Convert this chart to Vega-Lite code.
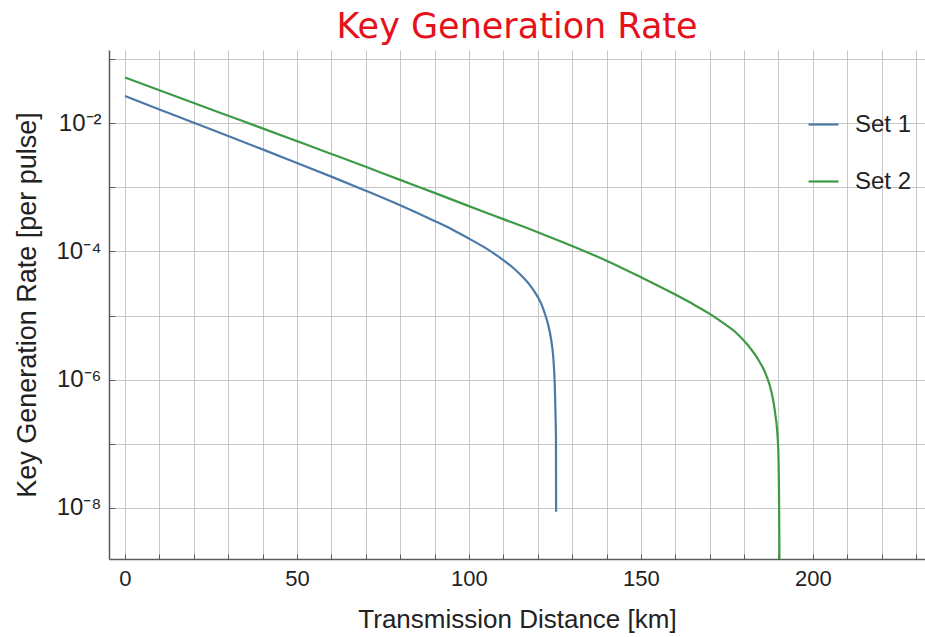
{
  "$schema": "https://vega.github.io/schema/vega-lite/v6.json",
  "width": 816,
  "height": 509,
  "autosize": {"type": "none"},
  "padding": {"left": 109, "top": 50, "right": 0, "bottom": 78},
  "background": "white",
  "title": {
    "text": "Key Generation Rate",
    "color": "#e5121b",
    "font": "DejaVu Sans",
    "fontSize": 35,
    "fontWeight": "normal",
    "anchor": "middle",
    "offset": 2
  },
  "data": {
    "values": [
      {"series": "Set 1", "distance": 0, "rate": 0.0263},
      {"series": "Set 1", "distance": 10, "rate": 0.0163},
      {"series": "Set 1", "distance": 20, "rate": 0.0101},
      {"series": "Set 1", "distance": 30, "rate": 0.00627},
      {"series": "Set 1", "distance": 40, "rate": 0.00388},
      {"series": "Set 1", "distance": 50, "rate": 0.00239},
      {"series": "Set 1", "distance": 60, "rate": 0.00146},
      {"series": "Set 1", "distance": 70, "rate": 0.000882},
      {"series": "Set 1", "distance": 80, "rate": 0.000523},
      {"series": "Set 1", "distance": 90, "rate": 0.000298},
      {"series": "Set 1", "distance": 95, "rate": 0.000221},
      {"series": "Set 1", "distance": 100, "rate": 0.000158},
      {"series": "Set 1", "distance": 105, "rate": 0.000111},
      {"series": "Set 1", "distance": 110, "rate": 0.0000730},
      {"series": "Set 1", "distance": 113, "rate": 0.0000545},
      {"series": "Set 1", "distance": 116, "rate": 0.0000380},
      {"series": "Set 1", "distance": 118, "rate": 0.0000285},
      {"series": "Set 1", "distance": 120, "rate": 0.0000195},
      {"series": "Set 1", "distance": 121, "rate": 0.0000153},
      {"series": "Set 1", "distance": 122, "rate": 0.0000110},
      {"series": "Set 1", "distance": 123, "rate": 0.0000073},
      {"series": "Set 1", "distance": 124, "rate": 0.0000039},
      {"series": "Set 1", "distance": 124.5, "rate": 0.0000023},
      {"series": "Set 1", "distance": 125, "rate": 0.00000070},
      {"series": "Set 1", "distance": 125.2, "rate": 0.00000025},
      {"series": "Set 1", "distance": 125.3, "rate": 0.00000012},
      {"series": "Set 1", "distance": 125.35, "rate": 0.0000000087},
      {"series": "Set 2", "distance": 0, "rate": 0.0513},
      {"series": "Set 2", "distance": 10, "rate": 0.0324},
      {"series": "Set 2", "distance": 20, "rate": 0.0205},
      {"series": "Set 2", "distance": 30, "rate": 0.0130},
      {"series": "Set 2", "distance": 40, "rate": 0.00825},
      {"series": "Set 2", "distance": 50, "rate": 0.00522},
      {"series": "Set 2", "distance": 60, "rate": 0.00330},
      {"series": "Set 2", "distance": 70, "rate": 0.00208},
      {"series": "Set 2", "distance": 80, "rate": 0.00130},
      {"series": "Set 2", "distance": 90, "rate": 0.000815},
      {"series": "Set 2", "distance": 100, "rate": 0.000507},
      {"series": "Set 2", "distance": 110, "rate": 0.000318},
      {"series": "Set 2", "distance": 120, "rate": 0.000199},
      {"series": "Set 2", "distance": 130, "rate": 0.000121},
      {"series": "Set 2", "distance": 140, "rate": 0.0000715},
      {"series": "Set 2", "distance": 150, "rate": 0.0000395},
      {"series": "Set 2", "distance": 160, "rate": 0.0000212},
      {"series": "Set 2", "distance": 165, "rate": 0.0000152},
      {"series": "Set 2", "distance": 170, "rate": 0.0000106},
      {"series": "Set 2", "distance": 174, "rate": 0.0000076},
      {"series": "Set 2", "distance": 178, "rate": 0.0000052},
      {"series": "Set 2", "distance": 181, "rate": 0.0000035},
      {"series": "Set 2", "distance": 184, "rate": 0.0000021},
      {"series": "Set 2", "distance": 186.5, "rate": 0.00000115},
      {"series": "Set 2", "distance": 188, "rate": 0.00000063},
      {"series": "Set 2", "distance": 189, "rate": 0.00000031},
      {"series": "Set 2", "distance": 189.9, "rate": 0.000000093},
      {"series": "Set 2", "distance": 190.2, "rate": 0.0000000087},
      {"series": "Set 2", "distance": 190.4, "rate": 0.0000000001}
    ]
  },
  "mark": {"type": "line", "strokeWidth": 2.2, "interpolate": "monotone", "clip": true},
  "encoding": {
    "x": {
      "field": "distance",
      "type": "quantitative",
      "scale": {"domain": [-4.65, 232.6], "nice": false, "zero": false},
      "axis": {
        "title": "Transmission Distance [km]",
        "values": [0, 10, 20, 30, 40, 50, 60, 70, 80, 90, 100, 110, 120, 130, 140, 150, 160, 170, 180, 190, 200, 210, 220, 230],
        "labelExpr": "datum.value % 50 == 0 ? datum.label : ''",
        "tickSize": -5,
        "labelPadding": 14,
        "titleY": 68,
        "titleBaseline": "alphabetic"
      }
    },
    "y": {
      "field": "rate",
      "type": "quantitative",
      "scale": {"type": "log", "domain": [1.603e-9, 0.1374], "nice": false},
      "axis": {
        "title": "Key Generation Rate [per pulse]",
        "values": [0.1, 0.01, 0.001, 0.0001, 0.00001, 0.000001, 0.0000001, 0.00000001],
        "labelExpr": "round(log(datum.value)/LN10) == -2 ? '10⁻²' : round(log(datum.value)/LN10) == -4 ? '10⁻⁴' : round(log(datum.value)/LN10) == -6 ? '10⁻⁶' : round(log(datum.value)/LN10) == -8 ? '10⁻⁸' : ''",
        "labelFontSize": 24,
        "tickSize": -6,
        "labelPadding": 14,
        "titleX": -74,
        "titleY": 254.5,
        "titleAngle": -90,
        "titleBaseline": "alphabetic",
        "titleAlign": "center",
        "titleFontSize": 27
      }
    },
    "color": {
      "field": "series",
      "type": "nominal",
      "scale": {"domain": ["Set 1", "Set 2"], "range": ["#4d79a8", "#3d9a46"]},
      "legend": {
        "title": null,
        "orient": "none",
        "legendX": 698,
        "legendY": 58,
        "symbolType": "stroke",
        "symbolSize": 900,
        "symbolStrokeWidth": 2.2,
        "labelFont": "Liberation Sans",
        "labelFontSize": 24,
        "labelColor": "#222222",
        "labelOffset": 15,
        "rowPadding": 28,
        "padding": 0
      }
    }
  },
  "config": {
    "view": {"stroke": null},
    "axis": {
      "labelFont": "Liberation Sans",
      "labelFontSize": 22,
      "labelColor": "#222222",
      "titleFont": "Liberation Sans",
      "titleFontSize": 26,
      "titleFontWeight": "normal",
      "titleColor": "#222222",
      "gridColor": "#c6c6c6",
      "gridWidth": 1,
      "gridOpacity": 1,
      "domainColor": "#5a5a5a",
      "domainWidth": 1.5,
      "tickColor": "#5a5a5a",
      "tickWidth": 1,
      "labelOverlap": false,
      "labelBound": false,
      "labelFlush": false
    }
  }
}
